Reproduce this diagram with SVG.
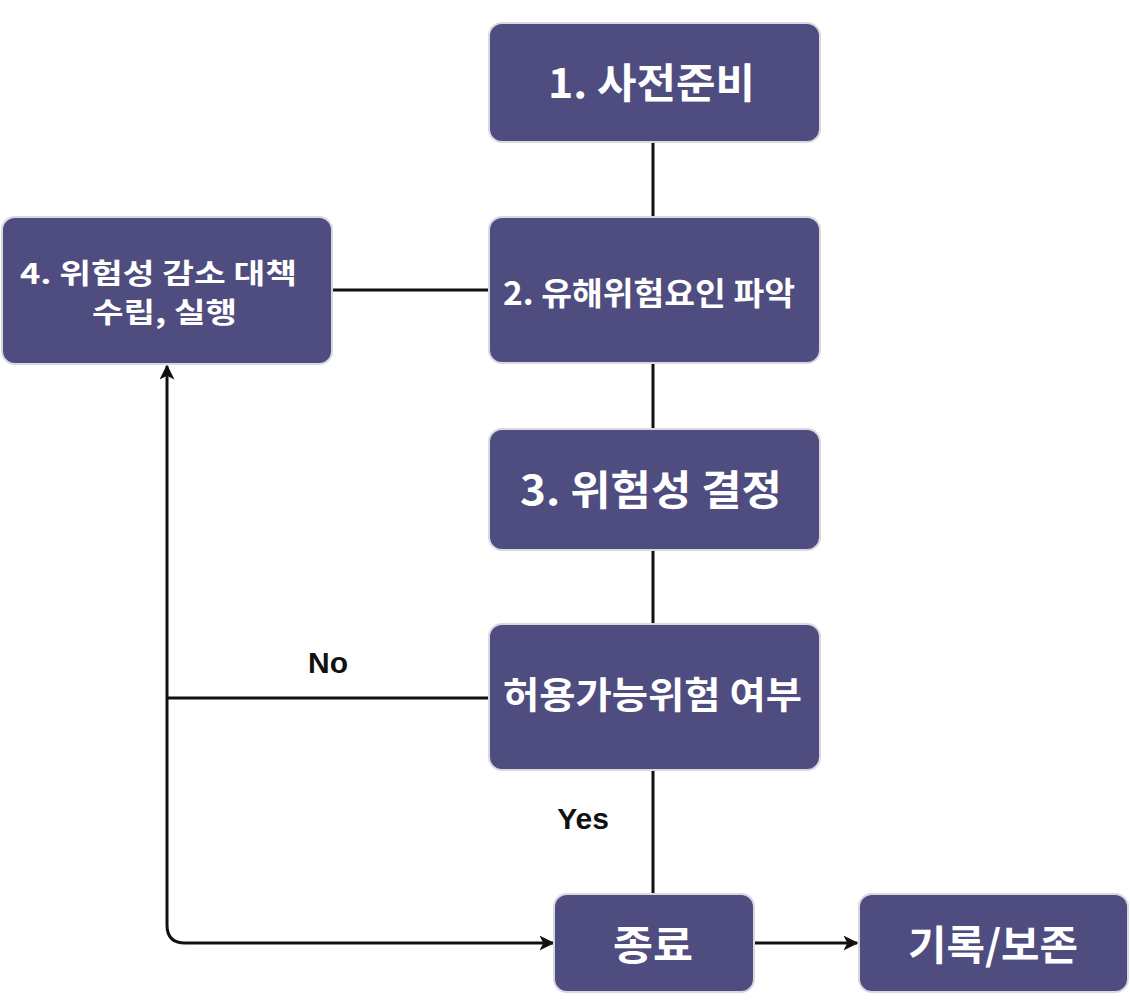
<svg xmlns="http://www.w3.org/2000/svg" width="1130" height="1006" viewBox="0 0 1130 1006">
  <style>
    .box { fill: #4f4c7f; stroke: #d8d8e0; stroke-width: 2; }
    .t { fill: #ffffff; font-family: "Noto Sans CJK KR", "Noto Sans", sans-serif; font-weight: bold; text-anchor: middle; }
    .lbl { fill: #111111; font-family: "Liberation Sans", Arial, sans-serif; font-weight: bold; text-anchor: middle; font-size: 30px; }
    .ln { fill: none; stroke: #111111; stroke-width: 3; }
  </style>
  <defs>
    <marker id="arr" viewBox="0 0 10 10" refX="9" refY="5" markerWidth="5" markerHeight="5" orient="auto" markerUnits="strokeWidth">
      <path d="M0,0 L10,5 L0,10 L2.5,5 Z" fill="#111111"/>
    </marker>
  </defs>
  <rect width="1130" height="1006" fill="#ffffff"/>

  <g id="connectors">
    <line class="ln" x1="653" y1="142" x2="653" y2="217"/>
    <line class="ln" x1="653" y1="363" x2="653" y2="429"/>
    <line class="ln" x1="653" y1="550" x2="653" y2="624"/>
    <line class="ln" x1="653" y1="770" x2="653" y2="894"/>
    <line class="ln" x1="332" y1="290" x2="489" y2="290"/>
    <line class="ln" x1="489" y1="698" x2="167" y2="698"/>
    <path class="ln" d="M167,698 L167,366" marker-end="url(#arr)"/>
    <path class="ln" d="M167,698 L167,925 Q167,943 185,943 L553,943" marker-end="url(#arr)"/>
    <path class="ln" d="M754,943 L857,943" marker-end="url(#arr)"/>
    <text class="lbl" x="328" y="673">No</text>
    <text class="lbl" x="583" y="829">Yes</text>
  </g>

  <g id="node1">
    <rect class="box" x="489" y="23" width="331" height="119" rx="13"/>
    <text class="t" x="651.5" y="98" font-size="41" textLength="207" lengthAdjust="spacingAndGlyphs">1. 사전준비</text>
  </g>
  <g id="node2">
    <rect class="box" x="489" y="217" width="331" height="146" rx="13"/>
    <text class="t" x="649" y="305" font-size="32" textLength="292" lengthAdjust="spacingAndGlyphs">2. 유해위험요인 파악</text>
  </g>
  <g id="node3">
    <rect class="box" x="489" y="429" width="331" height="121" rx="13"/>
    <text class="t" x="651" y="505" font-size="41" textLength="262" lengthAdjust="spacingAndGlyphs">3. 위험성 결정</text>
  </g>
  <g id="node_decision">
    <rect class="box" x="489" y="624" width="331" height="146" rx="13"/>
    <text class="t" x="652.5" y="709" font-size="37" textLength="299" lengthAdjust="spacingAndGlyphs">허용가능위험 여부</text>
  </g>
  <g id="node4">
    <rect class="box" x="2" y="217" width="330" height="147" rx="13"/>
    <text class="t" x="158.5" y="284" font-size="28" textLength="277" lengthAdjust="spacingAndGlyphs">4. 위험성 감소 대책</text>
    <text class="t" x="164.5" y="323" font-size="28" textLength="145" lengthAdjust="spacingAndGlyphs">수립, 실행</text>
  </g>
  <g id="node_end">
    <rect class="box" x="554" y="894" width="200" height="98" rx="13"/>
    <text class="t" x="653" y="960" font-size="41" textLength="80" lengthAdjust="spacingAndGlyphs">종료</text>
  </g>
  <g id="node_record">
    <rect class="box" x="859" y="894" width="269" height="98" rx="13"/>
    <text class="t" x="993" y="960" font-size="41" textLength="170" lengthAdjust="spacingAndGlyphs">기록/보존</text>
  </g>
</svg>
